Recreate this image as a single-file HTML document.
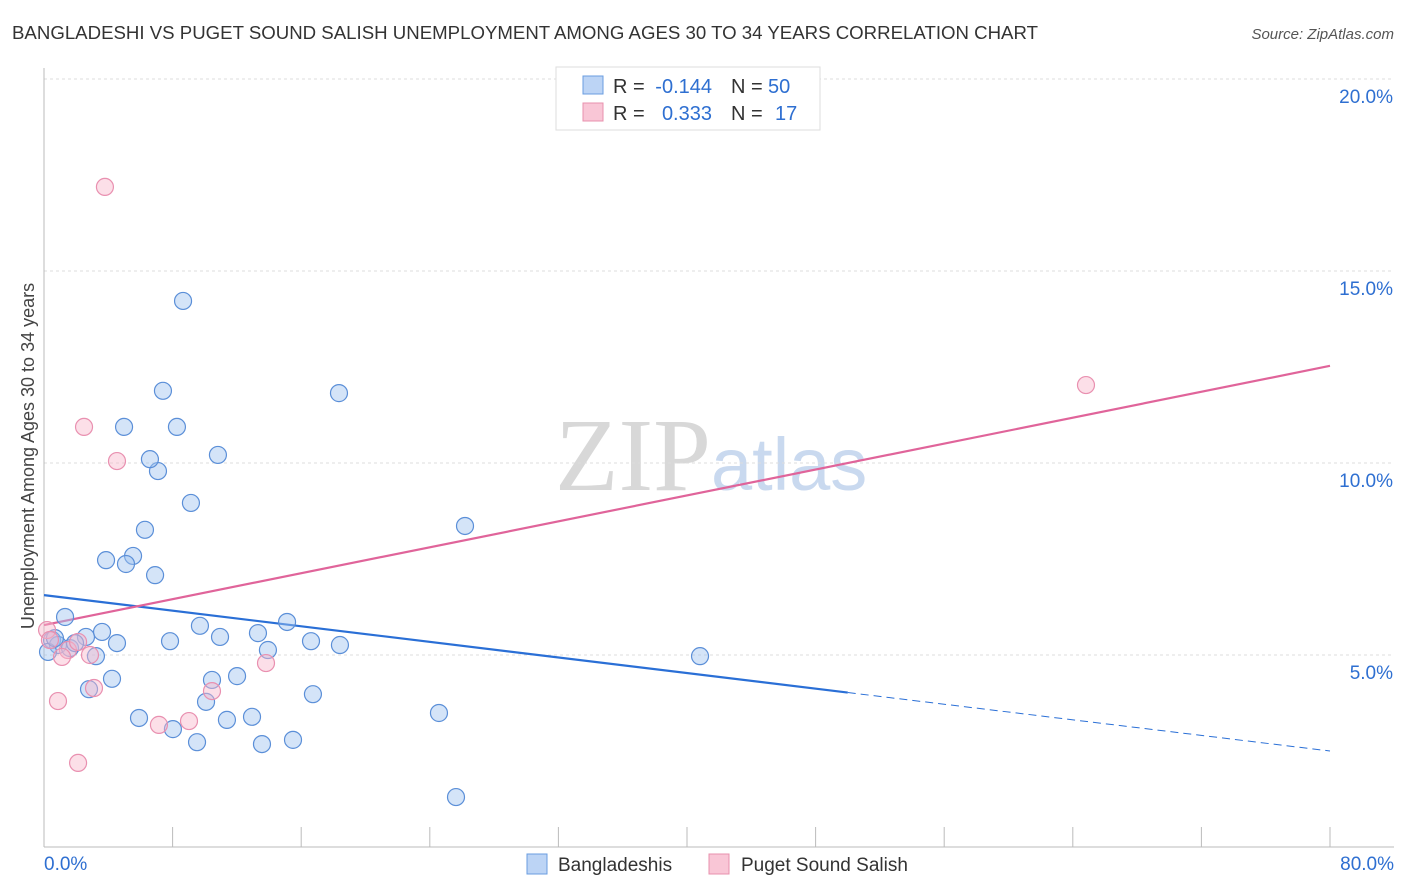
<!DOCTYPE html>
<html><head><meta charset="utf-8"><style>
body{margin:0;background:#fff;font-family:"Liberation Sans",sans-serif;}
</style></head><body>
<svg id="c" width="1406" height="892" xmlns="http://www.w3.org/2000/svg" style="display:block">
<text x="12" y="39" font-size="18" fill="#333" textLength="1026" lengthAdjust="spacingAndGlyphs">BANGLADESHI VS PUGET SOUND SALISH UNEMPLOYMENT AMONG AGES 30 TO 34 YEARS CORRELATION CHART</text>
<text x="1394" y="39" font-size="15" fill="#555" text-anchor="end" font-style="italic">Source: ZipAtlas.com</text>
<text x="555" y="490" font-size="104" font-family="Liberation Serif" fill="#d8d8d8">ZIP<tspan fill="#c9d9ef" font-family="Liberation Sans" font-size="74">atlas</tspan></text>
<g id="grid"></g><g id="axes"></g><g id="lines"></g><g id="pts"></g>
<text transform="translate(34,456) rotate(-90)" font-size="18" fill="#444" text-anchor="middle">Unemployment Among Ages 30 to 34 years</text>
<g font-size="20" fill="#333">
<rect x="556" y="67" width="264" height="63" fill="#fff" stroke="#ddd"/>
<rect x="583" y="76" width="20" height="18" fill="#bcd4f5" stroke="#6a9de0"/>
<rect x="583" y="103" width="20" height="18" fill="#f9c6d6" stroke="#e890ad"/>
<text x="613" y="93">R =</text><text x="712" y="93" fill="#2e6fd1" text-anchor="end">-0.144</text>
<text x="731" y="93">N =</text><text x="768" y="93" fill="#2e6fd1">50</text>
<text x="613" y="120">R =</text><text x="712" y="120" fill="#2e6fd1" text-anchor="end">0.333</text>
<text x="731" y="120">N =</text><text x="775" y="120" fill="#2e6fd1">17</text>
</g>
<g>
<rect x="527" y="854" width="20" height="20" fill="#bcd4f5" stroke="#6a9de0"/>
<text x="558" y="871" font-size="19" fill="#333">Bangladeshis</text>
<rect x="709" y="854" width="20" height="20" fill="#f9c6d6" stroke="#e890ad"/>
<text x="741" y="871" font-size="19" fill="#333">Puget Sound Salish</text>
</g>
</svg>
<script>
const blueX=[1.31,0.50,0.87,1.62,2.61,3.61,4.54,3.23,4.23,2.80,5.91,8.02,9.52,10.08,10.45,11.38,12.01,12.94,13.56,15.49,16.73,7.84,9.70,10.95,13.31,13.93,15.12,16.61,18.41,3.86,5.54,5.10,6.91,6.28,9.14,7.09,6.59,4.98,8.27,10.82,7.40,8.65,18.35,26.19,24.57,25.63,40.81,0.25,0.68,1.93];
const blueY=[5.99,5.39,5.26,5.18,5.47,5.60,5.31,4.97,4.38,4.11,3.36,3.07,2.73,3.78,4.35,3.31,4.45,3.39,2.68,2.79,3.98,5.36,5.76,5.47,5.57,5.13,5.86,5.36,5.26,7.47,7.58,7.37,7.08,8.26,8.96,9.79,10.10,10.94,10.94,10.21,11.88,14.22,11.82,8.36,3.49,1.30,4.97,5.08,5.44,5.31];
const pinkX=[3.79,2.49,4.54,0.19,0.37,1.49,1.12,2.86,2.12,0.87,2.12,3.11,7.15,9.02,10.45,13.81,64.82];
const pinkY=[17.19,10.94,10.05,5.65,5.39,5.13,4.95,5.00,5.34,3.80,2.19,4.14,3.18,3.28,4.06,4.79,12.03];
const yTicks=[5,10,15,20];
const xTickLabels=["0.0%","80.0%"];
const blueTrend=[6.56,2.5];const blueSolidEnd=50;
const pinkTrend=[5.78,12.53];
const NS="http://www.w3.org/2000/svg";
const sx=v=>44+v*16.075, sy=v=>847-v*38.4;
function mk(p,t,a){const e=document.createElementNS(NS,t);for(const k in a)e.setAttribute(k,a[k]);document.getElementById(p).appendChild(e);return e;}
yTicks.forEach(t=>{
 const g=mk('grid','line',{x1:44,x2:1394,y1:sy(t),y2:sy(t),stroke:'#ddd','stroke-dasharray':'3,3'});
 
 
 const l=mk('axes','text',{x:1393,y:sy(t)+24,'font-size':19,fill:'#2e6fd1','text-anchor':'end'});
 l.textContent=t.toFixed(1)+'%';
 
 
});
const ax=mk('axes','line',{x1:44,x2:44,y1:68,y2:847,stroke:'#bbb'});


const bx=mk('axes','line',{x1:44,x2:1394,y1:847,y2:847,stroke:'#bbb'});


for(let i=0;i<=10;i++){const t=mk('axes','line',{x1:sx(i*8),x2:sx(i*8),y1:827,y2:847,stroke:'#bbb'});
 
 }
[[0,'start',44],[80,'end',1394]].forEach((d,i)=>{const l=mk('axes','text',{x:d[2],y:870,'font-size':19,fill:'#2e6fd1','text-anchor':d[1]});l.textContent=xTickLabels[i];
 
 });
function ty(tr,x){return tr[0]+(tr[1]-tr[0])*x/80;}
let e=mk('lines','line',{x1:sx(0),y1:sy(ty(blueTrend,0)),x2:sx(blueSolidEnd),y2:sy(ty(blueTrend,blueSolidEnd)),stroke:'#2a6fd6','stroke-width':2.2});


e=mk('lines','line',{x1:sx(blueSolidEnd),y1:sy(ty(blueTrend,blueSolidEnd)),x2:sx(80),y2:sy(ty(blueTrend,80)),stroke:'#2a6fd6','stroke-width':1,'stroke-dasharray':'8,5'});


e=mk('lines','line',{x1:sx(0),y1:sy(ty(pinkTrend,0)),x2:sx(80),y2:sy(ty(pinkTrend,80)),stroke:'#e0649a','stroke-width':2.2});


blueX.forEach((x,i)=>{const c=mk('pts','circle',{cx:sx(x),cy:sy(blueY[i]),r:8.5,fill:'rgba(160,195,240,0.45)',stroke:'#5b8fd8','stroke-width':1.2});
 
 });
pinkX.forEach((x,i)=>{const c=mk('pts','circle',{cx:sx(x),cy:sy(pinkY[i]),r:8.5,fill:'rgba(248,185,205,0.45)',stroke:'#e990b0','stroke-width':1.2});
 
 });
</script>
</body></html>
